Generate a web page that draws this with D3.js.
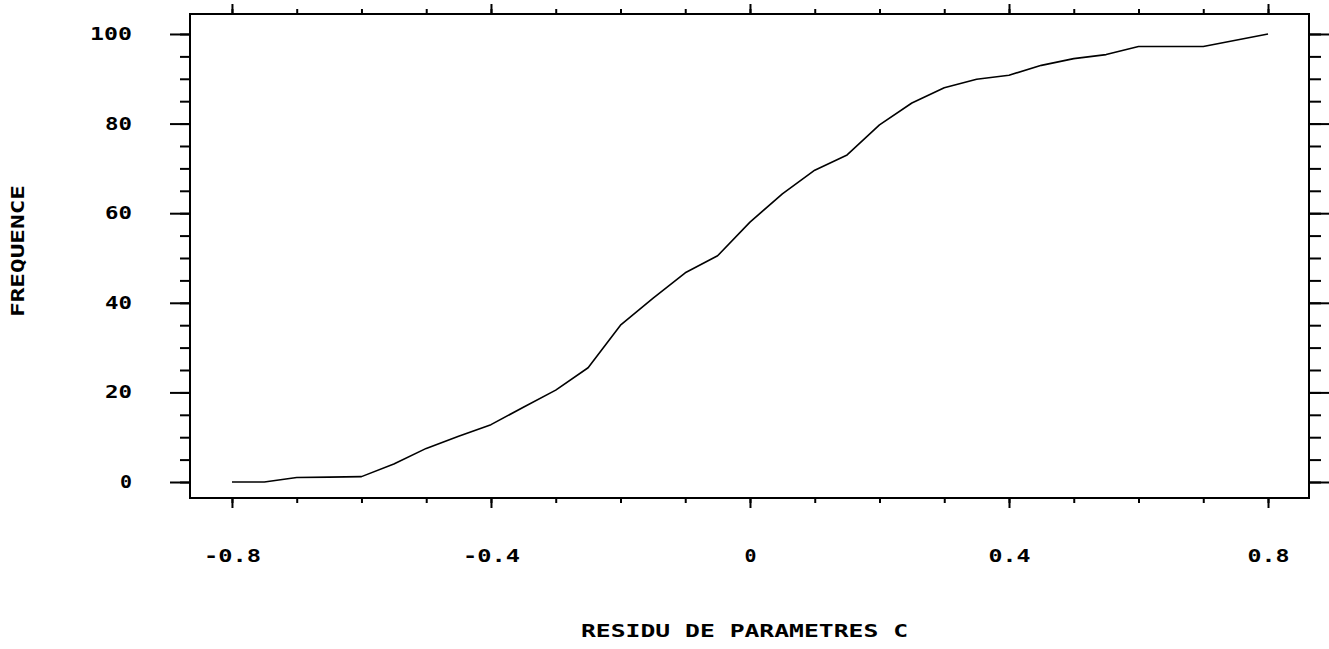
<!DOCTYPE html>
<html>
<head>
<meta charset="utf-8">
<script src="https://cdn.jsdelivr.net/npm/d3@7/dist/d3.min.js"></script>
<style>
  html, body { margin: 0; padding: 0; background: #fff; }
  svg { display: block; }
  text { font-family: "DejaVu Sans Mono", "Liberation Mono", monospace; font-weight: bold; font-size: 17px; fill: #000; }
</style>
</head>
<body>
<svg id="chart" width="1329" height="649"></svg>
<script>
// Data
const residu = [-0.8, -0.75, -0.7, -0.65, -0.6, -0.55, -0.5, -0.45, -0.4, -0.35, -0.3, -0.25, -0.2, -0.15, -0.1, -0.05,
                0, 0.05, 0.1, 0.15, 0.2, 0.25, 0.3, 0.35, 0.4, 0.45, 0.5, 0.55, 0.6, 0.65, 0.7, 0.75, 0.8];
const frequence = [0, 0, 1, 1.1, 1.2, 4, 7.5, 10.2, 12.8, 16.7, 20.5, 25.5, 35, 41, 46.7, 50.5,
                   58, 64.3, 69.6, 73, 79.7, 84.6, 88, 89.9, 90.8, 93, 94.5, 95.4, 97.2, 97.2, 97.2, 98.6, 100];
const xMajorTicks = [-0.8, -0.4, 0, 0.4, 0.8];
const xMinorTicks = [-0.8, -0.7, -0.6, -0.5, -0.4, -0.3, -0.2, -0.1, 0, 0.1, 0.2, 0.3, 0.4, 0.5, 0.6, 0.7, 0.8];
const yMajorTicks = [0, 20, 40, 60, 80, 100];
const yMinorTicks = [0, 5, 10, 15, 20, 25, 30, 35, 40, 45, 50, 55, 60, 65, 70, 75, 80, 85, 90, 95, 100];
const xTickLabels = ["-0.8", "-0.4", "0", "0.4", "0.8"];
const yTickLabels = ["0", "20", "40", "60", "80", "100"];
const xTitle = "RESIDU DE PARAMETRES C";
const yTitle = "FREQUENCE";

(function () {
const svg = d3.select("#chart");
const pLeft = 190, pRight = 1309, pTop = 14, pBottom = 498;
const pitch = 15, glyph = 12;   // plotter-style fixed character cell
const textLen = s => (s.length - 1) * pitch + glyph;

const x = d3.scaleLinear().domain([-0.8648, 0.8633]).range([pLeft, pRight]);
const y = d3.scaleLinear().domain([-3.57, 104.46]).range([pBottom, pTop]);

function styleAxis(g) {
  g.select(".domain").remove();
  g.selectAll(".tick line").attr("stroke", "#000").attr("stroke-width", 2);
}
function styleText(g) {
  g.selectAll("text")
    .attr("font-size", null).attr("font-family", null)
    .attr("textLength", function () { return textLen(this.textContent); })
    .attr("lengthAdjust", "spacingAndGlyphs");
}

// Frame
svg.append("rect")
  .attr("x", pLeft).attr("y", pTop)
  .attr("width", pRight - pLeft).attr("height", pBottom - pTop)
  .attr("fill", "none").attr("stroke", "#000").attr("stroke-width", 2);

// Bottom axis
svg.append("g").attr("transform", `translate(0,${pBottom})`)
  .call(d3.axisBottom(x).tickValues(xMinorTicks).tickSize(5).tickFormat(""))
  .call(styleAxis);
svg.append("g").attr("transform", `translate(0,${pBottom})`)
  .call(d3.axisBottom(x).tickValues(xMajorTicks).tickSize(10).tickPadding(42)
        .tickFormat((d, i) => xTickLabels[i]))
  .call(styleAxis)
  .call(styleText);

// Top axis
svg.append("g").attr("transform", `translate(0,${pTop})`)
  .call(d3.axisTop(x).tickValues(xMinorTicks).tickSize(5).tickFormat(""))
  .call(styleAxis);
svg.append("g").attr("transform", `translate(0,${pTop})`)
  .call(d3.axisTop(x).tickValues(xMajorTicks).tickSize(10).tickFormat(""))
  .call(styleAxis);

// Left axis
svg.append("g").attr("transform", `translate(${pLeft},0)`)
  .call(d3.axisLeft(y).tickValues(yMinorTicks).tickSize(10).tickFormat(""))
  .call(styleAxis);
svg.append("g").attr("transform", `translate(${pLeft},0)`)
  .call(d3.axisLeft(y).tickValues(yMajorTicks).tickSize(20).tickPadding(38)
        .tickFormat((d, i) => yTickLabels[i]))
  .call(styleAxis)
  .call(styleText);

// Right axis
svg.append("g").attr("transform", `translate(${pRight},0)`)
  .call(d3.axisRight(y).tickValues(yMinorTicks).tickSize(12).tickFormat(""))
  .call(styleAxis);
svg.append("g").attr("transform", `translate(${pRight},0)`)
  .call(d3.axisRight(y).tickValues(yMajorTicks).tickSize(20).tickFormat(""))
  .call(styleAxis);

// Curve
const pts = residu.map((r, i) => [r, frequence[i]]);
svg.append("path")
  .datum(pts)
  .attr("fill", "none")
  .attr("stroke", "#000")
  .attr("stroke-width", 1.6)
  .attr("stroke-linejoin", "round")
  .attr("d", d3.line().x(d => x(d[0])).y(d => y(d[1])));

// Titles
svg.append("text")
  .attr("x", 581).attr("y", 637)
  .attr("textLength", textLen(xTitle))
  .attr("lengthAdjust", "spacingAndGlyphs")
  .text(xTitle);

svg.append("text")
  .attr("transform", "translate(24,251) rotate(-90)")
  .attr("text-anchor", "middle")
  .attr("textLength", textLen(yTitle))
  .attr("lengthAdjust", "spacingAndGlyphs")
  .text(yTitle);
})();
</script>
</body>
</html>
